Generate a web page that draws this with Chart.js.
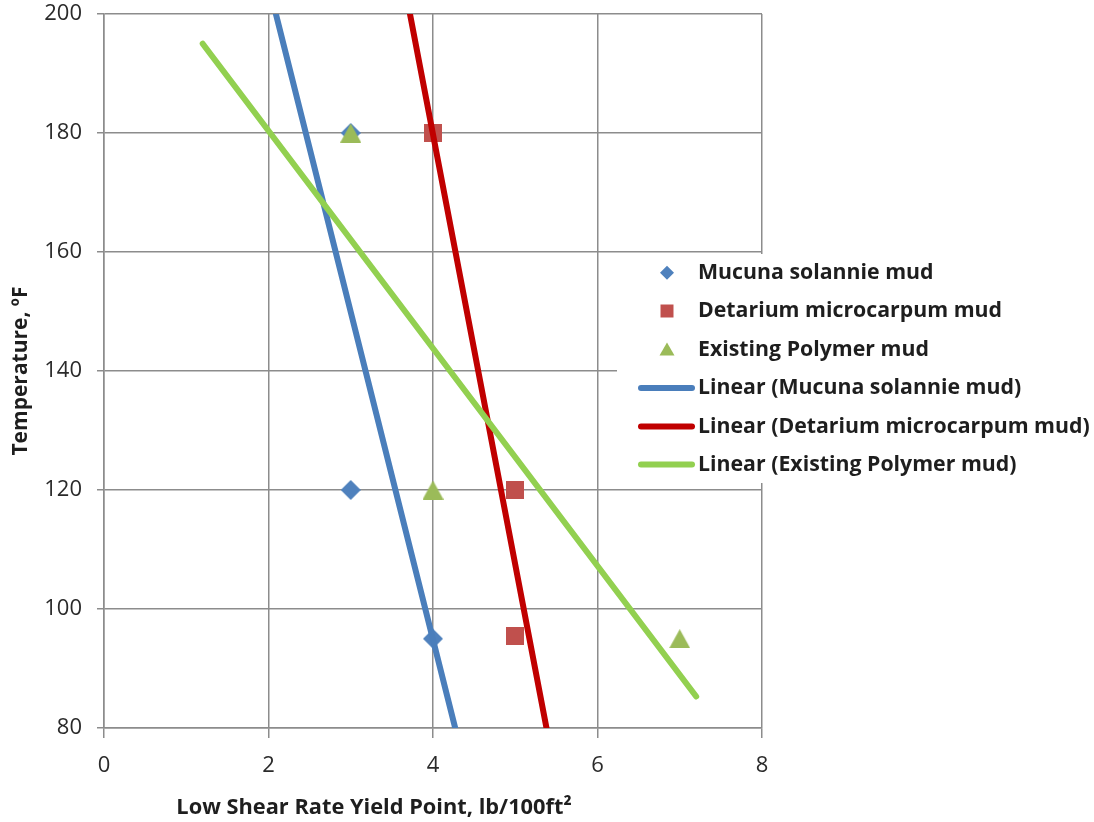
<!DOCTYPE html>
<html><head><meta charset="utf-8">
<script src="https://cdn.jsdelivr.net/npm/chart.js@4.4.1/dist/chart.umd.min.js"></script>
<style>html,body{margin:0;padding:0;background:#fff}#wrap{position:relative;width:1094px;height:822px}</style>
</head><body><div id="wrap"><canvas id="c"></canvas></div>
<script>
// ---- data ----
const seriesNames = ['Mucuna solannie mud', 'Detarium microcarpum mud', 'Existing Polymer mud'];
const trendNames = ['Linear (Mucuna solannie mud)', 'Linear (Detarium microcarpum mud)', 'Linear (Existing Polymer mud)'];
const mucunaX = [3, 3, 4];
const mucunaY = [180, 120, 95];
const detariumX = [4, 5, 5];
const detariumY = [180, 120, 95.5];
const polymerX = [3, 4, 7];
const polymerY = [180, 120, 95];
// trendline end points (as drawn in the reference)
const mucunaTrendX = [2.09, 4.27];
const mucunaTrendY = [200, 80];
const detariumTrendX = [3.72, 5.38];
const detariumTrendY = [200, 80];
const polymerTrendX = [1.2, 7.2];
const polymerTrendY = [195, 85.3];
const xTicks = [0, 2, 4, 6, 8];
const yTicks = [80, 100, 120, 140, 160, 180, 200];
const xTitle = 'Low Shear Rate Yield Point, lb/100ft\u00B2';
const yTitle = 'Temperature, \u00BAF';

const FONT = '"Open Sans"';
const C_BLUE = '#4F81BD', C_RED = '#C0504D', C_GREEN = '#9BBB59';
const T_BLUE = '#4A7EBB', T_RED = '#C00000', T_GREEN = '#92D050';
const GRID = '#8c8c8c';
const TEXT = '#1e1e1e';

function pts(xs, ys) { return xs.map((x, i) => ({x: x, y: ys[i]})); }

function markerCanvas(kind, w, h, color) {
  const c = document.createElement('canvas');
  c.width = w; c.height = h;
  const g = c.getContext('2d');
  g.fillStyle = color;
  g.beginPath();
  if (kind === 'diamond') { g.moveTo(w/2, 0); g.lineTo(w, h/2); g.lineTo(w/2, h); g.lineTo(0, h/2); }
  else if (kind === 'square') { g.rect(0, 0, w, h); }
  else { g.moveTo(w/2, 0); g.lineTo(w, h); g.lineTo(0, h); }
  g.closePath(); g.fill();
  return c;
}
const mDiamond = markerCanvas('diamond', 20, 20, C_BLUE);
const mSquare = markerCanvas('square', 18, 18, C_RED);
const mTriangle = markerCanvas('triangle', 21, 19, C_GREEN);

const legendPlugin = {
  id: 'excelLegend',
  afterDraw(chart) {
    const ctx = chart.ctx;
    ctx.save();
    // x axis title (centred as in the reference)
    ctx.fillStyle = TEXT;
    ctx.font = 'bold 21.8px ' + FONT;
    ctx.textAlign = 'center';
    ctx.textBaseline = 'alphabetic';
    ctx.fillText(xTitle, 374, 814);
    // legend
    ctx.fillStyle = '#fff';
    ctx.fillRect(617, 254, 477, 229);
    const rows = [272.7, 311, 349.5, 388, 426.5, 464.5];
    const mx = 667, tx = 698;
    const lm = [['diamond', C_BLUE], ['square', C_RED], ['triangle', C_GREEN]];
    lm.forEach((m, i) => {
      const y = rows[i];
      ctx.fillStyle = m[1];
      ctx.beginPath();
      if (m[0] === 'diamond') { ctx.moveTo(mx, y-7); ctx.lineTo(mx+7, y); ctx.lineTo(mx, y+7); ctx.lineTo(mx-7, y); }
      else if (m[0] === 'square') { ctx.rect(mx-6.5, y-6.5, 13, 13); }
      else { ctx.moveTo(mx, y-7); ctx.lineTo(mx+7.5, y+6); ctx.lineTo(mx-7.5, y+6); }
      ctx.closePath(); ctx.fill();
    });
    [T_BLUE, T_RED, T_GREEN].forEach((col, i) => {
      const y = rows[i+3];
      ctx.strokeStyle = col; ctx.lineWidth = 6; ctx.lineCap = 'round';
      ctx.beginPath(); ctx.moveTo(641, y); ctx.lineTo(692, y); ctx.stroke();
    });
    ctx.fillStyle = TEXT;
    ctx.font = 'bold 21.3px ' + FONT;
    ctx.textBaseline = 'middle';
    ctx.textAlign = 'left';
    seriesNames.concat(trendNames).forEach((t, i) => ctx.fillText(t, tx, rows[i]));
    ctx.restore();
  }
};

new Chart(document.getElementById('c'), {
  type: 'scatter',
  data: {
    datasets: [
      {label: seriesNames[0], data: pts(mucunaX, mucunaY), pointStyle: mDiamond, order: 6},
      {label: seriesNames[1], data: pts(detariumX, detariumY), pointStyle: mSquare, order: 5},
      {label: seriesNames[2], data: pts(polymerX, polymerY), pointStyle: mTriangle, order: 4},
      {label: trendNames[0], data: pts(mucunaTrendX, mucunaTrendY), showLine: true, pointRadius: 0, borderColor: T_BLUE, borderWidth: 6, borderCapStyle: 'round', clip: 0, order: 3},
      {label: trendNames[1], data: pts(detariumTrendX, detariumTrendY), showLine: true, pointRadius: 0, borderColor: T_RED, borderWidth: 6, borderCapStyle: 'round', clip: 0, order: 2},
      {label: trendNames[2], data: pts(polymerTrendX, polymerTrendY), showLine: true, pointRadius: 0, borderColor: T_GREEN, borderWidth: 6, borderCapStyle: 'round', clip: 0, order: 1}
    ]
  },
  options: {
    responsive: true,
    maintainAspectRatio: false,
    animation: false,
    events: [],
    layout: {autoPadding: false, padding: {left: 0, right: 332, top: 14, bottom: 0}},
    plugins: {legend: {display: false}, tooltip: {enabled: false}},
    scales: {
      x: {
        type: 'linear', min: 0, max: 8,
        afterBuildTicks: s => { s.ticks = xTicks.map(v => ({value: v})); },
        afterFit: s => { s.height = 94; s.paddingLeft = 0; s.paddingRight = 0; },
        grid: {color: GRID, lineWidth: 1.5, tickLength: 10, tickColor: GRID},
        border: {color: GRID, width: 1.5},
        ticks: {font: {family: FONT, size: 22}, color: '#2a2a2a', padding: 15, maxRotation: 0},
        title: {display: false}
      },
      y: {
        type: 'linear', min: 80, max: 200,
        afterBuildTicks: s => { s.ticks = yTicks.map(v => ({value: v})); },
        afterFit: s => { s.width = 104; s.paddingTop = 0; s.paddingBottom = 0; },
        grid: {color: GRID, lineWidth: 1.5, tickLength: 7, tickColor: GRID},
        border: {color: GRID, width: 1.5},
        ticks: {font: {family: FONT, size: 22}, color: '#2a2a2a', padding: 15},
        title: {display: true, text: yTitle, font: {family: FONT, size: 21, weight: 'bold'}, color: TEXT, padding: {top: 8, bottom: 0}}
      }
    }
  },
  plugins: [legendPlugin]
});
</script>
</body></html>
